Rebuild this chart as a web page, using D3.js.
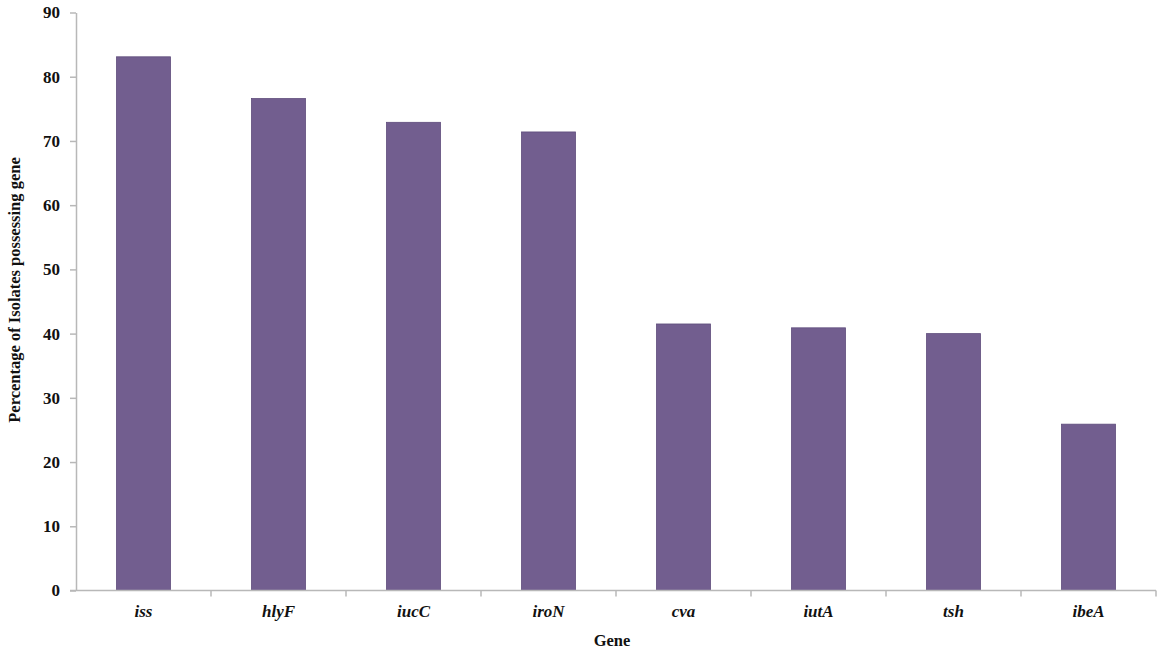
<!DOCTYPE html>
<html><head><meta charset="utf-8">
<script src="https://cdn.jsdelivr.net/npm/d3@7"></script>
<style>body{margin:0;background:#fff}svg{display:block}</style>
</head><body>
<svg id="c" width="1165" height="658"></svg>
<script>
const genes = ["iss","hlyF","iucC","iroN","cva","iutA","tsh","ibeA"];
const percentages = [83.1, 76.6, 72.9, 71.4, 41.5, 40.9, 40.0, 25.9];
const yTicks = [0,10,20,30,40,50,60,70,80,90];
const yTitle = "Percentage of Isolates possessing gene";
const xTitle = "Gene";

const svg = d3.select("#c");
const m = {left:76, right:10, top:12.5, bottom:67.5};
const W = 1165, H = 658;
const x = d3.scaleBand().domain(genes).range([m.left, m.left + 135*8]).paddingInner(0.6).paddingOuter(0.3);
const y = d3.scaleLinear().domain([0,90]).range([H - m.bottom, m.top]);
const font = "'Liberation Serif','Times New Roman',serif";

svg.selectAll("rect.bar").data(genes).join("rect").attr("class","bar")
  .attr("x", d => x(d)).attr("width", x.bandwidth())
  .attr("y", (d,i) => y(percentages[i])).attr("height", (d,i) => y(0) - y(percentages[i]))
  .attr("fill","#725e8f").attr("stroke","#5f4d7c").attr("stroke-width",0.8);

const ya = svg.append("g").attr("transform",`translate(${m.left},0)`)
  .call(d3.axisLeft(y).tickValues(yTicks).tickSize(6).tickSizeOuter(0).tickPadding(10));
ya.select(".domain").attr("stroke","#b8b8b8").attr("stroke-width",1.5);
ya.selectAll(".tick line").attr("stroke","#b8b8b8").attr("stroke-width",1.5);
ya.selectAll("text").attr("font-family",font).attr("font-weight","bold").attr("font-size",17).attr("fill","#111");

const xa = svg.append("g").attr("transform",`translate(0,${y(0)})`)
  .call(d3.axisBottom(x).tickSize(0).tickPadding(14));
xa.select(".domain").remove();
xa.append("line").attr("x1",m.left-6).attr("x2",m.left+x.step()*genes.length).attr("stroke","#b8b8b8").attr("stroke-width",1.5);
const bounds = genes.map((d,i) => m.left + x.step()*(i+1));
xa.selectAll("line.b").data(bounds).join("line").attr("class","b")
  .attr("x1",d=>d).attr("x2",d=>d).attr("y1",0).attr("y2",6).attr("stroke","#b8b8b8").attr("stroke-width",1.5);
xa.selectAll(".tick text").attr("font-family",font).attr("font-weight","bold").attr("font-style","italic").attr("font-size",17).attr("fill","#111");

svg.append("text").attr("x",612).attr("y",646).attr("text-anchor","middle")
  .attr("font-family",font).attr("font-weight","bold").attr("font-size",16.5).attr("fill","#111").text(xTitle);
svg.append("text").attr("transform","translate(20,290) rotate(-90)").attr("text-anchor","middle")
  .attr("font-family",font).attr("font-weight","bold").attr("font-size",16.5).attr("fill","#111").text(yTitle);
</script>
</body></html>
